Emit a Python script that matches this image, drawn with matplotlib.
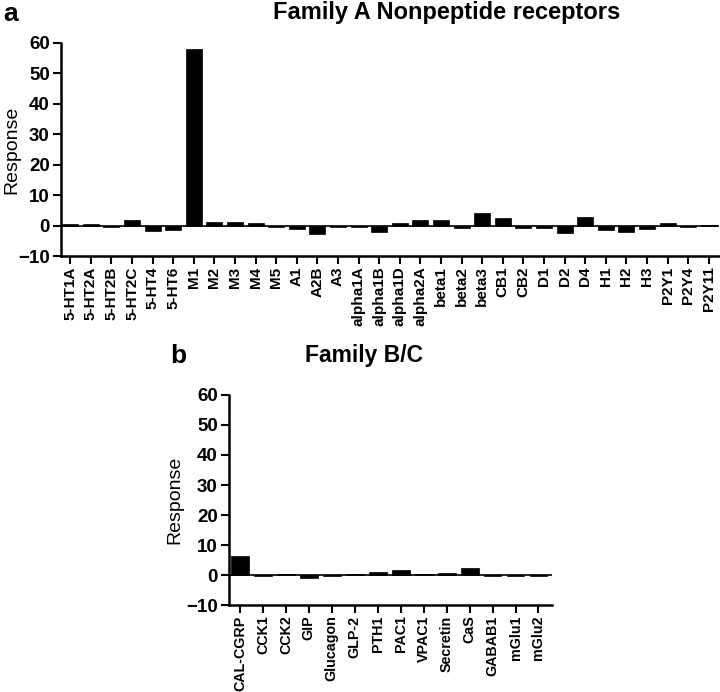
import matplotlib
matplotlib.use('Agg')
import matplotlib.pyplot as plt

plt.rcParams['font.family'] = ['Liberation Sans', 'DejaVu Sans']

# panel a: Family A nonpeptide receptors
receptors_a = ['5-HT1A', '5-HT2A', '5-HT2B', '5-HT2C', '5-HT4', '5-HT6', 'M1', 'M2', 'M3', 'M4',
               'M5', 'A1', 'A2B', 'A3', 'alpha1A', 'alpha1B', 'alpha1D', 'alpha2A', 'beta1', 'beta2',
               'beta3', 'CB1', 'CB2', 'D1', 'D2', 'D4', 'H1', 'H2', 'H3', 'P2Y1', 'P2Y4', 'P2Y11']
response_a = [0.6, 0.5, -0.6, 2.0, -1.7, -1.5, 58.1, 1.3, 1.2, 0.7,
              -0.5, -1.1, -2.7, -0.3, -0.5, -2.0, 1.0, 2.0, 2.0, -0.9,
              4.2, 2.6, -0.8, -0.9, -2.3, 2.8, -1.4, -2.0, -1.1, 1.0, -0.6, 0.2]

# panel b: Family B/C
receptors_b = ['CAL-CGRP', 'CCK1', 'CCK2', 'GIP', 'Glucagon', 'GLP-2', 'PTH1', 'PAC1',
               'VPAC1', 'Secretin', 'CaS', 'GABAB1', 'mGlu1', 'mGlu2']
response_b = [6.3, -0.3, 0.5, -1.0, -0.4, 0.4, 1.0, 1.7, 0.4, 0.8, 2.2, -0.2, -0.4, -0.2]

yticks = [-10, 0, 10, 20, 30, 40, 50, 60]


def style_axes(ax, names, values, xlim, xfs):
    x = range(len(names))
    ax.bar(x, values, width=0.78, color='black', edgecolor='black', linewidth=0.5)
    ax.axhline(0, color='black', lw=1.2)
    ax.set_xlim(*xlim)
    ax.set_ylim(-10, 60)
    ax.set_yticks(yticks)
    ax.set_xticks(list(x))
    ax.set_xticklabels(names, rotation=90, fontsize=xfs, fontweight='bold')
    for lab in ax.get_yticklabels():
        lab.set_fontsize(13.5)
        lab.set_fontweight('bold')
    ax.spines['top'].set_visible(False)
    ax.spines['right'].set_visible(False)
    ax.spines['left'].set_linewidth(1.8)
    ax.spines['bottom'].set_linewidth(1.8)
    ax.tick_params(axis='both', width=1.5, length=6, pad=2)
    ax.tick_params(axis='x', pad=1.5)
    ax.set_ylabel('Response', fontsize=14)


fig = plt.figure(figsize=(7.2, 6.92), dpi=100)

ax1 = fig.add_axes([0.0847, 0.630, 0.914, 0.308])
style_axes(ax1, receptors_a, response_a, (-0.45, 31.5), 11)
ax1.yaxis.set_label_coords(-0.062, 0.5)

ax2 = fig.add_axes([0.318, 0.1257, 0.449, 0.3035])
style_axes(ax2, receptors_b, response_b, (-0.48, 13.6), 10.3)
ax2.yaxis.set_label_coords(-0.14, 0.5)

fig.text(0.004, 0.997, 'a', fontsize=19, fontweight='bold', va='top', ha='left')
fig.text(0.621, 0.998, 'Family A Nonpeptide receptors', fontsize=17, fontweight='bold',
         va='top', ha='center')
fig.text(0.236, 0.486, 'b', fontsize=19, fontweight='bold', va='center', ha='left')
fig.text(0.505, 0.486, 'Family B/C', fontsize=16.5, fontweight='bold', va='center', ha='center')

fig.savefig('out.png', dpi=100)
